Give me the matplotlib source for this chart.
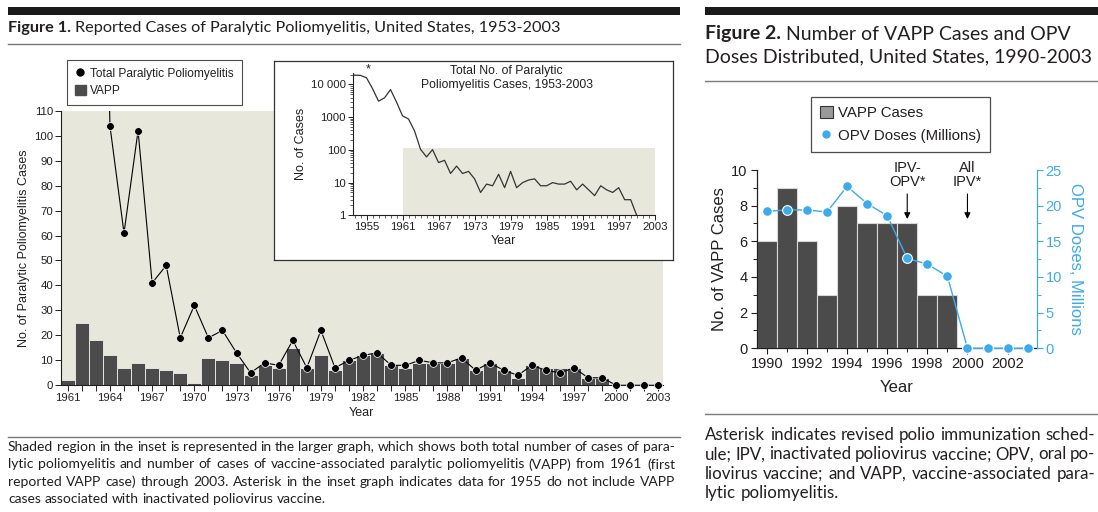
import matplotlib
matplotlib.use('Agg')
import matplotlib.pyplot as plt
import numpy as np
from matplotlib.patches import Rectangle, Patch
from matplotlib.lines import Line2D
from matplotlib.ticker import MultipleLocator, FixedLocator, LogLocator, NullFormatter

# ---------------- data ----------------
total_years = list(range(1953, 2004))
total_cases = [19300, 19000, 16000, 7500, 3100, 3900, 7000, 2900, 1100, 880, 380,
               104, 61, 102, 41, 48, 19, 32, 19, 22, 13, 5, 9, 8, 18, 7, 22, 7,
               10, 12, 13, 8, 8, 10, 9, 9, 11, 6, 9, 6, 4, 8, 6, 5, 7, 3, 3,
               0, 0, 0, 0]
vapp_years = list(range(1961, 2004))
vapp_cases = [2, 25, 18, 12, 7, 9, 7, 6, 5, 1, 11, 10, 9, 4, 8, 7, 15, 7, 12, 6,
              10, 12, 13, 8, 7, 9, 9, 9, 11, 6, 9, 6, 3, 8, 7, 7, 7, 3, 3, 0, 0, 0, 0]
main_xticklabels = ['1961', '1964', '1967', '1970', '1973', '1976', '1979', '1982',
                    '1985', '1988', '1991', '1994', '1997', '2000', '2003']
inset_xticklabels = ['1955', '1961', '1967', '1973', '1979', '1985', '1991', '1997', '2003']
inset_yticklabels = ['1', '10', '100', '1000', '10 000']

fig2_years = list(range(1990, 2004))
fig2_vapp = [6, 9, 6, 3, 8, 7, 7, 7, 3, 3, 0, 0, 0, 0]
opv_doses = [19.2, 19.4, 19.4, 19.1, 22.7, 20.3, 18.6, 12.6, 11.8, 10.1, 0, 0, 0, 0]
fig2_xticklabels = ['1990', '1992', '1994', '1996', '1998', '2000', '2002']

# ---------------- styling ----------------
W, H = 1098, 512
fig = plt.figure(figsize=(W / 100, H / 100), dpi=100)
def fx(px): return px / W
def fy(py): return 1 - py / H

CHART_FONT = 'Liberation Sans'
TEXT_FONT = 'Lato'
BEIGE = '#E8E7DC'
BAR = '#4B4B4B'
BLUE = '#3DAAE9'
INK = '#231F20'
plt.rcParams['font.family'] = CHART_FONT
plt.rcParams['text.color'] = INK
plt.rcParams['axes.labelcolor'] = INK
plt.rcParams['xtick.color'] = INK
plt.rcParams['ytick.color'] = INK

renderer = fig.canvas.get_renderer()

def width_of(t):
    return t.get_window_extent(renderer=renderer).width

def space_width(size):
    probe1 = fig.text(0, 0, 'a a', fontsize=size, family=TEXT_FONT)
    probe2 = fig.text(0, 0, 'aa', fontsize=size, family=TEXT_FONT)
    s = width_of(probe1) - width_of(probe2)
    probe1.remove(); probe2.remove()
    return s

def text_line(x0, x1, y, line, size, justify=True):
    words = line.split(' ')
    texts = [fig.text(0, fy(y), w, fontsize=size, family=TEXT_FONT, va='center',
                      ha='left', color=INK) for w in words]
    widths = [width_of(t) for t in texts]
    space = space_width(size)
    gap = (x1 - x0 - sum(widths)) / (len(words) - 1) if (justify and len(words) > 1) else space
    x = x0
    for t, w in zip(texts, widths):
        t.set_x(fx(x))
        x += w + gap

def rule(x0, x1, y, color='#7A7A7A', lw=1.0):
    fig.add_artist(Line2D([fx(x0), fx(x1)], [fy(y), fy(y)], color=color, lw=lw,
                          transform=fig.transFigure))

def black_bar(x0, x1, y0, y1):
    fig.add_artist(Rectangle((fx(x0), fy(y1)), fx(x1) - fx(x0), fy(y0) - fy(y1),
                             transform=fig.transFigure, color='#1A1A1A', lw=0))

# ---------------- headers ----------------
black_bar(8, 680, 7, 15)
black_bar(705, 1098, 7, 15)

def title(x, y, bold, rest, size):
    tb = fig.text(fx(x), fy(y), bold, fontsize=size, family=TEXT_FONT, weight='bold',
                  va='center', ha='left', color=INK)
    wb = width_of(tb)
    fig.text(fx(x + wb + space_width(size)), fy(y), rest, fontsize=size, family=TEXT_FONT,
             va='center', ha='left', color=INK)

title(8, 28, 'Figure 1.', 'Reported Cases of Paralytic Poliomyelitis, United States, 1953-2003', 11.7)
title(705, 34, 'Figure 2.', 'Number of VAPP Cases and OPV', 14)
fig.text(fx(705), fy(57), 'Doses Distributed, United States, 1990-2003', fontsize=14,
         family=TEXT_FONT, va='center', ha='left', color=INK)
rule(8, 680, 44)
rule(705, 1098, 81)
rule(8, 680, 437)
rule(705, 1098, 414)

cap1 = ['Shaded region in the inset is represented in the larger graph, which shows both total number of cases of para-',
        'lytic poliomyelitis and number of cases of vaccine-associated paralytic poliomyelitis (VAPP) from 1961 (first',
        'reported VAPP case) through 2003. Asterisk in the inset graph indicates data for 1955 do not include VAPP',
        'cases associated with inactivated poliovirus vaccine.']
for i, ln in enumerate(cap1):
    text_line(8, 675, 447 + i * 17.3, ln, 10.0, justify=(i < len(cap1) - 1))

cap2 = ['Asterisk indicates revised polio immunization sched-',
        'ule; IPV, inactivated poliovirus vaccine; OPV, oral po-',
        'liovirus vaccine; and VAPP, vaccine-associated para-',
        'lytic poliomyelitis.']
for i, ln in enumerate(cap2):
    text_line(705, 1095, 435 + i * 19.3, ln, 12.2, justify=(i < len(cap2) - 1))

# ---------------- Figure 1 main chart ----------------
ax = fig.add_axes([fx(60.7), fy(385.3), fx(662.7) - fx(60.7), fy(110.7) - fy(385.3)])
ax.set_facecolor(BEIGE)
ax.bar(vapp_years, vapp_cases, width=1.0, color=BAR, edgecolor='#E4E4E4', linewidth=0.7, zorder=2)
ax.plot(vapp_years, total_cases[total_years.index(1961):], color='black', lw=0.8, zorder=3)
vis_t = [v for v in total_cases[total_years.index(1961):]]
vis_y = [y for y, v in zip(vapp_years, vis_t) if v <= 110]
vis_v = [v for v in vis_t if v <= 110]
ax.plot(vis_y, vis_v, ls='none', marker='o', ms=5.6, mfc='black', mec='white', mew=0.5,
        zorder=4, clip_on=False)
ax.set_xlim(1960.5, 2003.3)
ax.set_ylim(0, 110)
for s in ['top', 'right']:
    ax.spines[s].set_visible(False)
for s in ['left', 'bottom']:
    ax.spines[s].set_linewidth(0.8)
    ax.spines[s].set_color(INK)
ax.yaxis.set_major_locator(MultipleLocator(10))
ax.set_xticks(range(1961, 2004, 3))
ax.set_xticklabels(main_xticklabels)
ax.xaxis.set_minor_locator(MultipleLocator(1))
ax.tick_params(axis='both', which='major', direction='out', length=4, width=0.7, labelsize=8.2, pad=1.5)
ax.tick_params(axis='x', which='minor', direction='out', length=4, width=0.7)
ax.set_ylabel('No. of Paralytic Poliomyelitis Cases', fontsize=9, labelpad=3)
ax.set_xlabel('Year', fontsize=9, labelpad=3)

leg_handles = [Line2D([], [], ls='none', marker='o', ms=5, color='black'),
               Patch(facecolor=BAR, edgecolor=BAR)]
leg = fig.legend(leg_handles, ['Total Paralytic Poliomyelitis', 'VAPP'], loc='upper left',
                 bbox_to_anchor=(fx(67), fy(60)), bbox_transform=fig.transFigure,
                 frameon=True, fancybox=False, edgecolor=INK, fontsize=8.6,
                 handlelength=0.95, handleheight=0.95, handletextpad=0.35, borderpad=0.65,
                 labelspacing=0.4, borderaxespad=0)
leg.get_frame().set_linewidth(0.8)

# inset box
box = fig.add_axes([fx(274), fy(260), fx(673) - fx(274), fy(61) - fy(260)])
box.set_xticks([]); box.set_yticks([])
box.set_facecolor('white')
for s in box.spines.values():
    s.set_linewidth(0.9); s.set_color('#333333')
box.set_zorder(3)

ins = fig.add_axes([fx(352.7), fy(215.3), fx(654.7) - fx(352.7), fy(73.3) - fy(215.3)])
ins.set_zorder(4)
ins.patch.set_alpha(0)
ins.set_yscale('log')
ins.set_xlim(1952.7, 2003)
ins.set_ylim(1, 22000)
ins.add_patch(Rectangle((1961, 1), 2003 - 1961, 112 - 1, facecolor=BEIGE, edgecolor='none', zorder=0))
ix = [y for y in total_years if y <= 2000]
iv = [max(v, 1) for y, v in zip(total_years, total_cases) if y <= 2000]
ins.plot(ix, iv, color='#333333', lw=0.9, zorder=2)
ins.text(1955.3, 19000, '*', fontsize=9, ha='center', va='bottom')
for s in ['top', 'right']:
    ins.spines[s].set_visible(False)
for s in ['left', 'bottom']:
    ins.spines[s].set_linewidth(0.8); ins.spines[s].set_color(INK)
ins.set_xticks(range(1955, 2004, 6))
ins.set_xticklabels(inset_xticklabels)
ins.xaxis.set_minor_locator(MultipleLocator(1))
ins.set_yticks([1, 10, 100, 1000, 10000])
ins.set_yticklabels(inset_yticklabels)
ins.yaxis.set_minor_locator(LogLocator(base=10, subs=np.arange(2, 10), numticks=20))
ins.yaxis.set_minor_formatter(NullFormatter())
ins.tick_params(axis='both', which='major', direction='out', length=3.5, width=0.7, labelsize=8.2, pad=1.5)
ins.tick_params(axis='both', which='minor', direction='out', length=2, width=0.5)
ins.set_ylabel('No. of Cases', fontsize=9, labelpad=3)
ins.set_xlabel('Year', fontsize=9, labelpad=2)
ins.text(0.51, 1.055, 'Total No. of Paralytic\nPoliomyelitis Cases, 1953-2003', transform=ins.transAxes,
         ha='center', va='top', fontsize=8.8, linespacing=1.15)

# ---------------- Figure 2 ----------------
ax2 = fig.add_axes([fx(756.7), fy(348.3), fx(1036.7) - fx(756.7), fy(170) - fy(348.3)])
ax2.bar(fig2_years, fig2_vapp, width=1.0, color=BAR, edgecolor='#D8D8D8', linewidth=0.8, zorder=2)
ax2.set_xlim(1989.5, 2003.45)
ax2.set_ylim(0, 10)
ax2.spines['top'].set_visible(False)
ax2.spines['right'].set_visible(False)
for s in ['left', 'bottom']:
    ax2.spines[s].set_linewidth(0.9); ax2.spines[s].set_color(INK)
ax2.set_yticks(range(0, 11, 2))
ax2.yaxis.set_minor_locator(MultipleLocator(1))
ax2.set_xticks(range(1990, 2003, 2))
ax2.set_xticklabels(fig2_xticklabels)
ax2.xaxis.set_minor_locator(MultipleLocator(1))
ax2.tick_params(axis='both', which='major', direction='out', length=4.5, width=0.8, labelsize=10.5, pad=2)
ax2.tick_params(axis='both', which='minor', direction='out', length=3, width=0.7)
ax2.set_ylabel('No. of VAPP Cases', fontsize=12, labelpad=3)
ax2.set_xlabel('Year', fontsize=12, labelpad=6)

ax2r = ax2.twinx()
ax2r.set_ylim(0, 25)
ax2r.set_xlim(1989.5, 2003.45)
for s in ['top', 'left', 'bottom']:
    ax2r.spines[s].set_visible(False)
ax2r.spines['right'].set_color(BLUE)
ax2r.spines['right'].set_linewidth(0.9)
ax2r.set_yticks(range(0, 26, 5))
ax2r.yaxis.set_minor_locator(MultipleLocator(2.5))
ax2r.tick_params(axis='y', which='major', direction='out', length=4.5, width=0.8, labelsize=10.5,
                 colors=BLUE, pad=2)
ax2r.tick_params(axis='y', which='minor', direction='out', length=3, width=0.7, colors=BLUE)
ax2r.set_ylabel('OPV Doses, Millions', fontsize=12, color=BLUE, rotation=270, labelpad=15)
ax2r.plot(fig2_years, opv_doses, color=BLUE, lw=1.0, marker='o', ms=7, mfc=BLUE, mec='white',
          mew=0.8, clip_on=False, zorder=5)

def ycase(py):
    return (348.3 - py) / (348.3 - 170) * 10

for xv, lab in [(1997, 'IPV-\nOPV*'), (2000, 'All\nIPV*')]:
    ax2.annotate('', xy=(xv, ycase(219)), xytext=(xv, ycase(194)),
                 arrowprops=dict(arrowstyle='-|>', color='black', lw=0.8, mutation_scale=9,
                                 shrinkA=0, shrinkB=0), annotation_clip=False)
    ax2.text(xv, ycase(175), lab, ha='center', va='center', fontsize=10.5, linespacing=1.05,
             clip_on=False)

leg2_handles = [Patch(facecolor='#999999', edgecolor='#333333', lw=0.8),
                Line2D([], [], ls='none', marker='o', ms=5, color=BLUE)]
leg2 = fig.legend(leg2_handles, ['VAPP Cases', 'OPV Doses (Millions)'], loc='upper left',
                  bbox_to_anchor=(fx(810.7), fy(96.7)), bbox_transform=fig.transFigure,
                  frameon=True, fancybox=False, edgecolor=INK, fontsize=10.8,
                  handlelength=0.9, handleheight=0.9, handletextpad=0.35, borderpad=0.6,
                  labelspacing=0.55, borderaxespad=0)
leg2.get_frame().set_linewidth(0.9)

fig.savefig('out.png', dpi=100)
